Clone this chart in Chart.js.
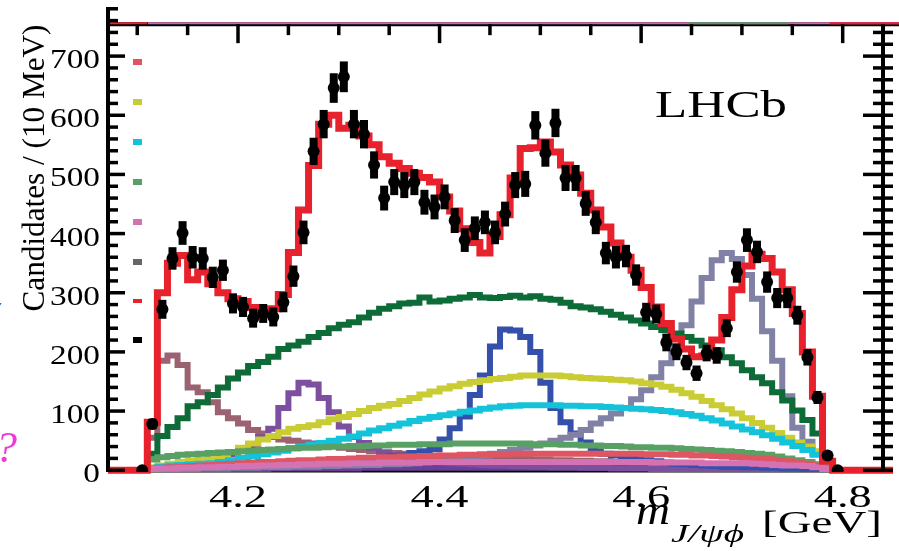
<!DOCTYPE html>
<html>
<head>
<meta charset="utf-8">
<title>LHCb m(J/psi phi)</title>
<script src="https://cdn.jsdelivr.net/npm/chart.js@4.4.1/dist/chart.umd.min.js"></script>
<style>
  html, body { margin: 0; padding: 0; background: #fff; }
  canvas { display: block; }
</style>
</head>
<body>
<canvas id="chart" width="899" height="551"></canvas>
<script>
"use strict";

// 10 MeV bins of m(J/psi phi), in GeV
var binCenters = [
    4.105, 4.115, 4.125, 4.135, 4.145, 4.155, 4.165, 4.175, 4.185, 4.195,
    4.205, 4.215, 4.225, 4.235, 4.245, 4.255, 4.265, 4.275, 4.285, 4.295,
    4.305, 4.315, 4.325, 4.335, 4.345, 4.355, 4.365, 4.375, 4.385, 4.395,
    4.405, 4.415, 4.425, 4.435, 4.445, 4.455, 4.465, 4.475, 4.485, 4.495,
    4.505, 4.515, 4.525, 4.535, 4.545, 4.555, 4.565, 4.575, 4.585, 4.595,
    4.605, 4.615, 4.625, 4.635, 4.645, 4.655, 4.665, 4.675, 4.685, 4.695,
    4.705, 4.715, 4.725, 4.735, 4.745, 4.755, 4.765, 4.775, 4.785, 4.795
];

var candidates = [
    0, 78, 272, 358, 401, 360, 358, 326, 338, 282,
    276, 257, 265, 259, 284, 328, 402, 539, 585, 646,
    665, 585, 568, 516, 460, 487, 482, 487, 453, 445,
    462, 422, 389, 409, 419, 402, 433, 482, 484, 583,
    536, 587, 494, 494, 451, 419, 367, 360, 362, 330,
    267, 264, 216, 200, 182, 164, 198, 194, 240, 335,
    389, 369, 318, 291, 291, 262, 191, 123, 25, 0
];
var candidateErrors = [
    0, 9, 16, 19, 20, 19, 19, 18, 18, 17,
    17, 16, 16, 16, 17, 18, 20, 23, 24, 25,
    26, 24, 24, 23, 21, 22, 22, 22, 21, 21,
    21, 21, 20, 20, 20, 20, 21, 22, 22, 24,
    23, 24, 22, 22, 21, 20, 19, 19, 19, 18,
    16, 16, 15, 14, 13, 13, 14, 14, 15, 18,
    20, 19, 18, 17, 17, 16, 14, 11, 5, 0
];

var totalFit = [
    0, 81, 300, 350, 363, 322, 335, 315, 300, 290,
    285, 275, 270, 273, 297, 368, 440, 515, 585, 600,
    578, 583, 565, 550, 530, 519, 510, 502, 495, 487,
    462, 438, 408, 385, 367, 395, 432, 494, 544, 545,
    555, 538, 516, 499, 468, 440, 411, 384, 360, 338,
    309, 276, 248, 222, 205, 192, 193, 220, 258, 305,
    345, 365, 358, 335, 305, 265, 200, 125, 15, 0
];
var nonResonant = [
    0, 28, 58, 73, 88, 108, 115, 127, 140, 155,
    165, 176, 183, 192, 205, 211, 217, 225, 232, 240,
    246, 250, 258, 266, 273, 277, 282, 283, 292, 285,
    287, 290, 292, 296, 292, 291, 293, 295, 292, 294,
    290, 288, 283, 277, 275, 272, 268, 263, 258, 253,
    248, 242, 237, 231, 225, 219, 211, 203, 191, 181,
    169, 157, 147, 132, 118, 101, 85, 62, 12, 0
];
var x4140 = [
    0, 55, 185, 194, 178, 140, 132, 115, 98, 88,
    79, 68, 62, 56, 52, 50, 47, 45, 42, 40,
    38, 36, 34, 32, 30, 29, 28, 27, 26, 25,
    24, 23, 22, 21, 21, 20, 20, 19, 19, 18,
    18, 17, 17, 16, 16, 15, 15, 14, 14, 13,
    13, 12, 12, 11, 11, 10, 10, 9, 9, 8,
    8, 7, 7, 6, 6, 5, 4, 3, 1, 0
];
var x4274 = [
    0, 3, 5, 7, 9, 12, 15, 18, 22, 27,
    33, 42, 56, 70, 105, 130, 148, 145, 122, 98,
    74, 56, 46, 38, 30, 25, 22, 19, 17, 15,
    13, 12, 11, 10, 9, 8, 8, 7, 7, 6,
    6, 5, 5, 5, 4, 4, 4, 3, 3, 3,
    3, 2, 2, 2, 2, 2, 2, 1, 1, 1,
    1, 1, 1, 1, 1, 1, 0, 0, 0, 0
];
var x4500 = [
    0, 1, 1, 2, 2, 3, 3, 4, 4, 5,
    5, 6, 7, 8, 9, 10, 11, 12, 13, 14,
    15, 16, 18, 19, 21, 23, 25, 29, 32, 36,
    52, 71, 91, 127, 160, 209, 238, 236, 225, 200,
    148, 105, 81, 62, 47, 35, 28, 25, 22, 19,
    17, 15, 13, 11, 10, 9, 8, 7, 6, 6,
    5, 5, 4, 4, 3, 3, 2, 2, 1, 0
];
var x4700 = [
    0, 1, 1, 2, 2, 2, 3, 3, 3, 4,
    4, 4, 5, 5, 5, 6, 6, 6, 7, 7,
    8, 8, 9, 9, 10, 10, 11, 12, 13, 14,
    15, 17, 19, 22, 25, 28, 31, 34, 38, 42,
    45, 50, 55, 60, 68, 79, 88, 96, 105, 120,
    135, 157, 181, 210, 245, 285, 325, 355, 367, 357,
    330, 290, 235, 185, 125, 72, 48, 30, 0, 0
];
var yellowComp = [
    0, 5, 8, 11, 14, 16, 18, 20, 24, 31,
    38, 45, 52, 58, 64, 70, 73, 76, 81, 86,
    90, 95, 100, 105, 109, 112, 117, 122, 128, 133,
    138, 142, 146, 149, 152, 154, 156, 158, 160, 160,
    160, 160, 159, 157, 156, 155, 154, 153, 152, 150,
    147, 145, 141, 136, 130, 124, 117, 110, 103, 96,
    88, 80, 72, 63, 55, 47, 40, 32, 5, 0
];
var cyanComp = [
    0, 3, 6, 8, 9, 10, 11, 12, 14, 17,
    21, 24, 27, 30, 33, 37, 40, 43, 46, 50,
    53, 57, 62, 67, 71, 75, 79, 83, 87, 90,
    93, 96, 99, 101, 104, 106, 108, 109, 110, 110,
    110, 110, 109, 109, 108, 108, 107, 106, 105, 104,
    103, 102, 100, 98, 95, 92, 88, 84, 79, 74,
    69, 64, 59, 53, 47, 41, 34, 26, 5, 0
];
var greenComp = [
    0, 18, 22, 24, 26, 27, 28, 29, 30, 31,
    32, 33, 34, 35, 36, 37, 38, 38, 39, 40,
    40, 41, 41, 42, 42, 43, 43, 43, 44, 44,
    44, 45, 45, 45, 45, 45, 45, 45, 45, 44,
    44, 44, 43, 43, 42, 42, 41, 41, 40, 39,
    39, 38, 38, 37, 36, 35, 34, 33, 32, 31,
    29, 28, 26, 23, 20, 17, 14, 10, 3, 0
];
var salmonComp = [
    0, 3, 4, 5, 6, 7, 8, 9, 10, 11,
    12, 13, 14, 14, 15, 16, 17, 17, 18, 19,
    19, 20, 21, 21, 22, 22, 23, 23, 24, 24,
    25, 25, 26, 26, 27, 27, 27, 28, 28, 28,
    28, 28, 28, 28, 28, 28, 28, 28, 28, 28,
    27, 27, 27, 26, 26, 25, 25, 24, 23, 22,
    21, 20, 19, 17, 15, 13, 11, 8, 2, 0
];
var pinkComp = [
    0, 2, 3, 3, 4, 4, 5, 5, 6, 6,
    7, 7, 8, 8, 9, 9, 10, 10, 11, 11,
    11, 12, 12, 12, 13, 13, 13, 13, 14, 14,
    14, 14, 14, 14, 14, 14, 14, 14, 14, 14,
    14, 14, 14, 14, 14, 14, 14, 14, 14, 14,
    14, 13, 13, 13, 13, 13, 12, 12, 12, 12,
    12, 11, 10, 9, 8, 8, 7, 5, 2, 0
];
var violetComp = [
    0, 1, 1, 1, 1, 1, 2, 2, 2, 2,
    2, 2, 2, 3, 3, 3, 3, 3, 3, 3,
    3, 3, 4, 4, 4, 4, 4, 4, 4, 4,
    4, 4, 4, 4, 4, 4, 4, 4, 4, 4,
    4, 4, 4, 4, 4, 4, 4, 4, 4, 4,
    4, 4, 4, 4, 4, 4, 4, 3, 3, 3,
    3, 3, 3, 3, 2, 2, 2, 1, 1, 0
];

var xTickLabels = [4.2, 4.4, 4.6, 4.8];
var yTickLabels = [0, 100, 200, 300, 400, 500, 600, 700];
var xRange = [4.071, 4.84];
var yRange = [-3, 783];
var upperFrameValue = 754;

var serif = '"Liberation Serif", serif';

function histDataset(label, values, color, width) {
    return {
        label: label,
        type: 'line',
        data: binCenters.map(function(c, i) {
            return { x: c, y: values[i] };
        }),
        borderColor: color,
        borderWidth: width,
        stepped: 'middle',
        pointRadius: 0,
        fill: false,
        borderJoinStyle: 'miter',
        borderCapStyle: 'butt'
    };
}

function drawText(ctx, text, x, y, font, color, sx, align) {
    ctx.save();
    ctx.font = font;
    ctx.translate(x, y);
    ctx.scale(sx, 1);
    ctx.fillStyle = color;
    ctx.textAlign = align || 'left';
    ctx.textBaseline = 'alphabetic';
    ctx.fillText(text, 0, 0);
    ctx.restore();
}

function fitScale(ctx, text, font, width) {
    ctx.save();
    ctx.font = font;
    var w = ctx.measureText(text).width;
    ctx.restore();
    return width / w;
}

function line(ctx, x1, y1, x2, y2) {
    ctx.beginPath();
    ctx.moveTo(x1, y1);
    ctx.lineTo(x2, y2);
    ctx.stroke();
}

var framePlugin = {
    id: 'frame',
    beforeDatasetsDraw: function(chart) {
        var ctx = chart.ctx, area = chart.chartArea;
        ctx.save();
        ctx.strokeStyle = '#000';
        ctx.lineWidth = 3;
        line(ctx, area.left, area.bottom - 1, area.right, area.bottom - 1);
        ctx.restore();
    },
    afterDatasetsDraw: function(chart) {
        var ctx = chart.ctx, xs = chart.scales.x, ys = chart.scales.y;
        ctx.save();
        ctx.strokeStyle = '#000';
        ctx.lineWidth = 8;
        ctx.lineCap = 'butt';
        candidates.forEach(function(n, i) {
            var e = candidateErrors[i];
            if (!e) return;
            var px = xs.getPixelForValue(binCenters[i]);
            line(ctx, px, ys.getPixelForValue(n - e), px, ys.getPixelForValue(n + e));
        });
        ctx.restore();
    },
    afterDraw: function(chart) {
        var ctx = chart.ctx, area = chart.chartArea;
        var xs = chart.scales.x, ys = chart.scales.y;
        var topY = ys.getPixelForValue(upperFrameValue);
        var k, v, py, px, major;

        ctx.save();
        ctx.strokeStyle = '#000';
        ctx.lineCap = 'butt';

        // upper frame (bottom edge of the panel above)
        ctx.lineWidth = 4;
        line(ctx, area.left, topY, chart.width, topY);
        ctx.lineWidth = 2;
        ctx.strokeStyle = '#c868b0';
        line(ctx, area.left + 40, topY - 1, chart.width, topY - 1);
        ctx.strokeStyle = '#4f9c5e';
        line(ctx, xs.getPixelForValue(4.647), topY - 1, xs.getPixelForValue(4.745), topY - 1);
        ctx.strokeStyle = '#e8222c';
        line(ctx, area.left, topY - 1, xs.getPixelForValue(4.11), topY - 1);
        line(ctx, xs.getPixelForValue(4.787), topY - 1, chart.width, topY - 1);

        // left axis
        ctx.strokeStyle = '#000';
        ctx.lineWidth = 4;
        line(ctx, area.left, area.top, area.left, area.bottom);
        ctx.lineWidth = 3.5;
        for (k = 0; k <= 39; k++) {
            v = k * 20;
            py = ys.getPixelForValue(v);
            major = v % 100 === 0;
            line(ctx, area.left, py, area.left + (major ? 17 : 10), py);
        }

        // right axis
        ctx.lineWidth = 4;
        line(ctx, area.right, topY, area.right, area.bottom);
        ctx.lineWidth = 3.5;
        for (k = 0; k <= 37; k++) {
            v = k * 20;
            py = ys.getPixelForValue(v);
            major = v % 100 === 0;
            line(ctx, area.right - (major ? 20 : 10), py, area.right + 10, py);
        }

        // top ticks
        for (k = 0; k <= 14; k++) {
            v = 4.1 + 0.05 * k;
            px = xs.getPixelForValue(v);
            major = k % 4 === 2;
            line(ctx, px, topY, px, topY + (major ? 19 : 11));
        }

        // legend swatches (their text is cropped away in the source)
        var swatches = [
            ['#e05560', 62, 6], ['#c8cc30', 102, 6], ['#12c4da', 142, 6],
            ['#58a064', 182, 6], ['#d472b4', 222, 6], ['#666666', 262, 6],
            ['#e8222c', 301, 4], ['#000000', 340, 6]
        ];
        swatches.forEach(function(s) {
            ctx.fillStyle = s[0];
            ctx.fillRect(area.left + 25, s[1] - s[2] / 2, 9, s[2]);
        });

        // tick labels
        var yFont = '28px ' + serif;
        var ySx = fitScale(ctx, '700', yFont, 50);
        yTickLabels.forEach(function(t) {
            drawText(ctx, String(t), area.left - 8, ys.getPixelForValue(t) + 12, yFont, '#000', ySx, 'right');
        });
        var xFont = '32px ' + serif;
        var xSx = fitScale(ctx, '4.2', xFont, 58);
        xTickLabels.forEach(function(t) {
            drawText(ctx, t.toFixed(1), xs.getPixelForValue(t), 507, xFont, '#000', xSx, 'center');
        });

        // y title
        var tFont = '31px ' + serif;
        var title = 'Candidates / (10 MeV)';
        ctx.save();
        ctx.font = tFont;
        var tSx = 287 / ctx.measureText(title).width;
        ctx.translate(44, 168);
        ctx.rotate(-Math.PI / 2);
        ctx.scale(tSx, 1);
        ctx.fillStyle = '#000';
        ctx.textAlign = 'center';
        ctx.textBaseline = 'alphabetic';
        ctx.fillText(title, 0, 0);
        ctx.restore();

        // x title
        var mFont = 'italic 40px ' + serif;
        drawText(ctx, 'm', 636, 524, mFont, '#000', fitScale(ctx, 'm', mFont, 34));
        var subFont = 'italic 26px ' + serif;
        drawText(ctx, 'J/\u03c8\u03d5', 671, 542, subFont, '#000', fitScale(ctx, 'J/\u03c8\u03d5', subFont, 73));
        var unitFont = '32px ' + serif;
        drawText(ctx, '[GeV]', 762, 533, unitFont, '#000', fitScale(ctx, '[GeV]', unitFont, 120));

        // LHCb label
        var lFont = '37px ' + serif;
        drawText(ctx, 'LHCb', 655, 117, lFont, '#000', fitScale(ctx, 'LHCb', lFont, 132));

        // cropped marks at the left edge
        drawText(ctx, '?', -5, 462, 'italic 44px ' + serif, '#f03ad8', 1);
        drawText(ctx, '/', -7, 318, 'italic 24px ' + serif, '#1a56e8', 1);

        ctx.restore();
    }
};

var redFit = histDataset('Total fit', totalFit, '#e8222c', 7);
redFit.data = [{ x: xRange[0], y: 0 }].concat(redFit.data, [{ x: 4.85, y: 0 }]);
redFit.clip = 12;

var datasets = [
    {
        label: 'Data',
        type: 'line',
        data: binCenters.map(function(c, i) {
            return { x: c, y: candidates[i] };
        }),
        showLine: false,
        pointRadius: 6,
        pointBackgroundColor: '#000',
        pointBorderWidth: 0
    },
    redFit,
    histDataset('Component (pink)', pinkComp, '#d472b4', 6),
    histDataset('Component (salmon)', salmonComp, '#df5562', 6),
    histDataset('Component (green)', greenComp, '#58a064', 6),
    histDataset('Component (cyan)', cyanComp, '#14c3d9', 6),
    histDataset('Component (yellow)', yellowComp, '#c9cc32', 6),
    histDataset('NR', nonResonant, '#0d6b38', 6),
    histDataset('X(4700)', x4700, '#8181a6', 6),
    histDataset('X(4500)', x4500, '#3550aa', 6),
    histDataset('X(4274)', x4274, '#7d4f9f', 6),
    histDataset('X(4140)', x4140, '#9b6272', 6),
    histDataset('Component (violet)', violetComp, '#6b3f99', 6)
];

var chart = new Chart(document.getElementById('chart'), {
    type: 'line',
    data: { datasets: datasets },
    options: {
        responsive: false,
        animation: false,
        devicePixelRatio: 1,
        layout: { padding: { left: 108, right: 16, top: 7, bottom: 79 } },
        plugins: {
            legend: { display: false },
            tooltip: { enabled: false }
        },
        scales: {
            x: { type: 'linear', min: xRange[0], max: xRange[1], display: false },
            y: { type: 'linear', min: yRange[0], max: yRange[1], display: false }
        }
    },
    plugins: [framePlugin]
});
</script>
</body>
</html>
